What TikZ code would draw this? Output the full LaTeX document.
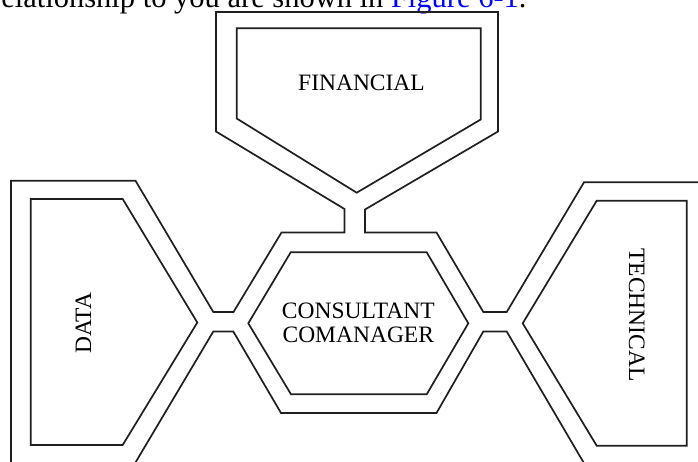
\documentclass[tikz,border=0pt]{standalone}
\usepackage{fontspec}
\setmainfont{Liberation Serif}
\begin{document}
\begin{tikzpicture}[x=1pt,y=-1pt,
  wall/.style={line width=1.7pt, line join=miter, draw=black!88},
  caption/.style={inner sep=0pt, font=\fontsize{23.5}{24.4}\selectfont, align=center},
  prose/.style={inner sep=0pt, anchor=base west, font=\fontsize{30.5}{36}\selectfont}]
  \useasboundingbox (0,0) rectangle (698,461);
  \clip (0,0) rectangle (698,461);

  % running text above the figure
  \node[prose] (lead) at (-9,7.5)
    {relationship to you are shown in \textcolor{blue}{Figure 6-1}.};

  % outer outline of the channels, upper side
  \draw[wall] (11,470) -- (11,180.7) -- (135.5,180.7) -- (213.3,312)
    -- (233.5,312) -- (281.5,232.5) -- (344.5,232.5) -- (344.5,209)
    -- (216,131.5) -- (216,12) -- (498,12) -- (498,131.5)
    -- (365,209.5) -- (365,232.5) -- (436.5,232.5) -- (483.3,312)
    -- (506.7,312) -- (584,182.3) -- (705,182.3);

  % outer outline of the channels, lower side
  \draw[wall] (131,470) -- (213.3,331.5) -- (233.3,331.5) -- (281,413)
    -- (436.5,413) -- (483.3,331.5) -- (506.7,331.5) -- (588,470);

  % inner boxes
  \draw[wall] (236.7,28.3) -- (480.7,28.3) -- (480.7,119.5)
    -- (356.7,192.7) -- (236.7,118.5) -- cycle;
  \draw[wall] (30.7,199) -- (122.7,199) -- (197.3,322.5)
    -- (122.7,445) -- (30.7,445) -- cycle;
  \draw[wall] (596.7,200.7) -- (686.7,200.7) -- (686.7,445.7)
    -- (596.7,445.7) -- (522.7,323.3) -- cycle;
  \draw[wall] (290.7,252.3) -- (426.7,252.3) -- (468.3,323.3)
    -- (426.7,394.3) -- (291,394.3) -- (248.3,323.3) -- cycle;

  % labels
  \node[caption] (fin) at (361.5,83.3) {FINANCIAL};
  \node[caption] (cons) at (358.3,322.7) {CONSULTANT\\COMANAGER};
  \node[caption, rotate=90] (data) at (83.3,323.3) {DATA};
  \node[caption, rotate=-90] (tech) at (636.7,315) {TECHNICAL};
\end{tikzpicture}
\end{document}
